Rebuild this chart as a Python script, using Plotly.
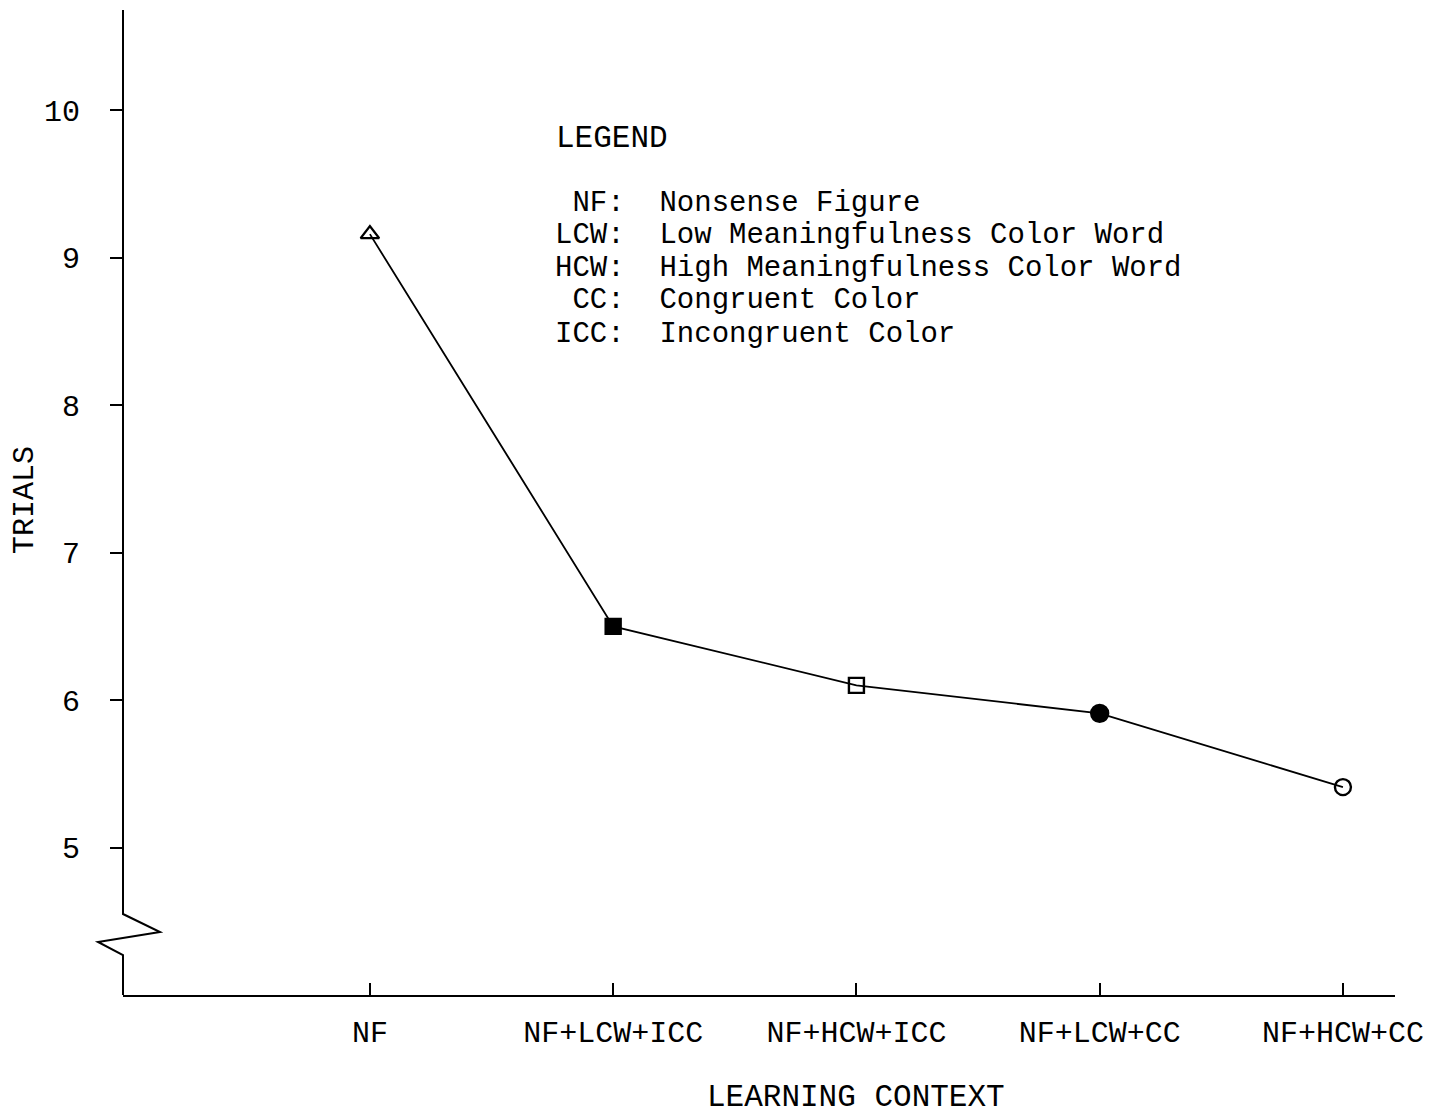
import plotly.graph_objects as go

categories = ["NF", "NF+LCW+ICC", "NF+HCW+ICC", "NF+LCW+CC", "NF+HCW+CC"]
trials = [9.16, 6.5, 6.1, 5.91, 5.41]
marker_symbols = ["triangle-up-open", "square", "square-open", "circle", "circle-open"]
marker_sizes = [16, 15, 15, 17, 16]
y_ticks = [5, 6, 7, 8, 9, 10]
legend_title = "LEGEND"
legend_lines = [
    "\u00a0NF:\u00a0\u00a0Nonsense Figure",
    "LCW:\u00a0\u00a0Low Meaningfulness Color Word",
    "HCW:\u00a0\u00a0High Meaningfulness Color Word",
    "\u00a0CC:\u00a0\u00a0Congruent Color",
    "ICC:\u00a0\u00a0Incongruent Color",
]

FONT = "Liberation Mono, Courier New, monospace"
W, H = 1449, 1114
L, R, T, B = 123, 54, 10, 119
PW, PH = W - L - R, H - T - B

def px(x):
    return (x - L) / PW

def py(y):
    return (H - B - y) / PH

xidx = list(range(len(categories)))

fig = go.Figure()
fig.add_trace(go.Scatter(
    x=xidx, y=trials, mode="lines+markers",
    line=dict(color="black", width=1.8),
    marker=dict(symbol=marker_symbols, size=marker_sizes, color="black", opacity=1,
                line=dict(color="black", width=2.4)),
    showlegend=False, hoverinfo="skip",
))

YMIN, YMAX = 4.0, 10.68
fig.update_layout(
    width=W, height=H,
    margin=dict(l=L, r=R, t=T, b=B),
    paper_bgcolor="white", plot_bgcolor="white",
    font=dict(family=FONT, color="black", size=28),
    xaxis=dict(
        range=[-1.015, 4.214], tickmode="array", tickvals=xidx, ticktext=categories,
        showgrid=False, zeroline=False, showline=True, linecolor="black", linewidth=2,
        ticks="inside", ticklen=12, tickwidth=2, tickcolor="black",
        tickfont=dict(family=FONT, size=30), ticklabelstandoff=9,
    ),
    yaxis=dict(
        range=[YMIN, YMAX], tickmode="array", tickvals=y_ticks,
        showgrid=False, zeroline=False, showline=False,
        ticks="outside", ticklen=12, tickwidth=2, tickcolor="black",
        tickfont=dict(family=FONT, size=30), ticklabelstandoff=24,
    ),
)

# y axis line with break symbol
def yv(pix):
    return YMAX - (pix - T) / PH * (YMAX - YMIN)

path = (f"M 0,{YMAX} L 0,{yv(914)} L {px(160)},{yv(932)} L {px(98)},{yv(942)} "
        f"L 0,{yv(955)} L 0,{YMIN}")
fig.add_shape(type="path", path=path, xref="paper", yref="y",
              line=dict(color="black", width=2))

# axis titles
fig.add_annotation(text="TRIALS", x=px(25), y=py(500), xref="paper", yref="paper",
                   xanchor="center", yanchor="middle",
                   textangle=-90, showarrow=False, font=dict(family=FONT, size=30))
fig.add_annotation(text="LEARNING CONTEXT", x=px(856), y=py(1097), xref="paper", yref="paper",
                   xanchor="center", yanchor="middle",
                   showarrow=False, font=dict(family=FONT, size=31))

# legend text block
fig.add_annotation(text=legend_title, x=px(554), y=py(138), xref="paper", yref="paper",
                   xanchor="left", yanchor="middle", showarrow=False,
                   font=dict(family=FONT, size=31))
line_y = [203, 235, 268, 301, 334]
for txt, yy in zip(legend_lines, line_y):
    fig.add_annotation(text=txt, x=px(554), y=py(yy), xref="paper", yref="paper",
                       xanchor="left", yanchor="middle", showarrow=False, borderpad=0,
                       font=dict(family=FONT, size=29))

fig.write_html("out.html")
